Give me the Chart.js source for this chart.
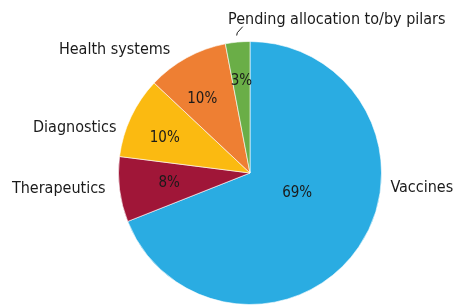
<!DOCTYPE html>
<html>
<head>
<meta charset="utf-8">
<script src="https://cdn.jsdelivr.net/npm/chart.js@4/dist/chart.umd.min.js"></script>
<style>
  html, body { margin: 0; padding: 0; background: #fff; }
  canvas { display: block; }
</style>
</head>
<body>
<canvas id="chart" width="456" height="307"></canvas>
<script>
const categories = ['Vaccines', 'Therapeutics', 'Diagnostics', 'Health systems', 'Pending allocation to/by pilars'];
const shares = [69, 8, 10, 10, 3];
const percentLabels = ['69%', '8%', '10%', '10%', '3%'];
const colors = ['#2aace2', '#a01638', '#fbba11', '#ee7f33', '#6aae47'];

// where the text sits, relative to the pie centre (radius units for names)
const pctPlace = [
  { f: 0.39, da: -11 },
  { f: 0.62, da: 0 },
  { f: 0.70, da: -3 },
  { f: 0.67, da: -4 },
  { f: 0.70, da: 0 }
];
const namePlace = [
  { x: 1.068, y: 0.114, align: 'left' },
  { x: -1.098, y: 0.121, align: 'right' },
  { x: -1.015, y: -0.341, align: 'right' },
  { x: -0.606, y: -0.939, align: 'right' },
  { x: -0.167, y: -1.163, align: 'left' }
];

const FONT = '"DejaVu Sans Condensed", "DejaVu Sans", sans-serif';

const pieLabels = {
  id: 'pieLabels',
  afterDatasetsDraw(chart) {
    const ctx = chart.ctx;
    const arcs = chart.getDatasetMeta(0).data;
    ctx.save();
    ctx.fillStyle = '#1a1a1a';
    ctx.textBaseline = 'middle';

    arcs.forEach((arc, i) => {
      const p = pctPlace[i];
      const mid = (arc.startAngle + arc.endAngle) / 2 + p.da * Math.PI / 180;
      const r = arc.outerRadius * p.f;
      ctx.font = '15px ' + FONT;
      ctx.textAlign = 'center';
      ctx.fillText(percentLabels[i], arc.x + r * Math.cos(mid), arc.y + r * Math.sin(mid));

      const n = namePlace[i];
      ctx.font = '16px ' + FONT;
      ctx.textAlign = n.align;
      ctx.fillText(categories[i], arc.x + n.x * arc.outerRadius, arc.y + n.y * arc.outerRadius);
    });

    // leader line for the small slice
    const a = arcs[4];
    ctx.strokeStyle = '#1a1a1a';
    ctx.lineWidth = 1;
    ctx.beginPath();
    ctx.moveTo(a.x - 13.3, a.y - 137.5);
    ctx.lineTo(a.x - 12.7, a.y - 140.3);
    ctx.lineTo(a.x - 7.3, a.y - 146.3);
    ctx.stroke();
    ctx.restore();
  }
};

new Chart(document.getElementById('chart'), {
  type: 'pie',
  data: {
    labels: categories,
    datasets: [{
      data: shares,
      backgroundColor: colors,
      borderColor: 'rgba(255,255,255,0.6)',
      borderWidth: 1
    }]
  },
  options: {
    responsive: false,
    animation: false,
    layout: { padding: { left: 118, right: 74, top: 41, bottom: 2 } },
    plugins: {
      legend: { display: false },
      tooltip: { enabled: false }
    }
  },
  plugins: [pieLabels]
});
</script>
</body>
</html>
